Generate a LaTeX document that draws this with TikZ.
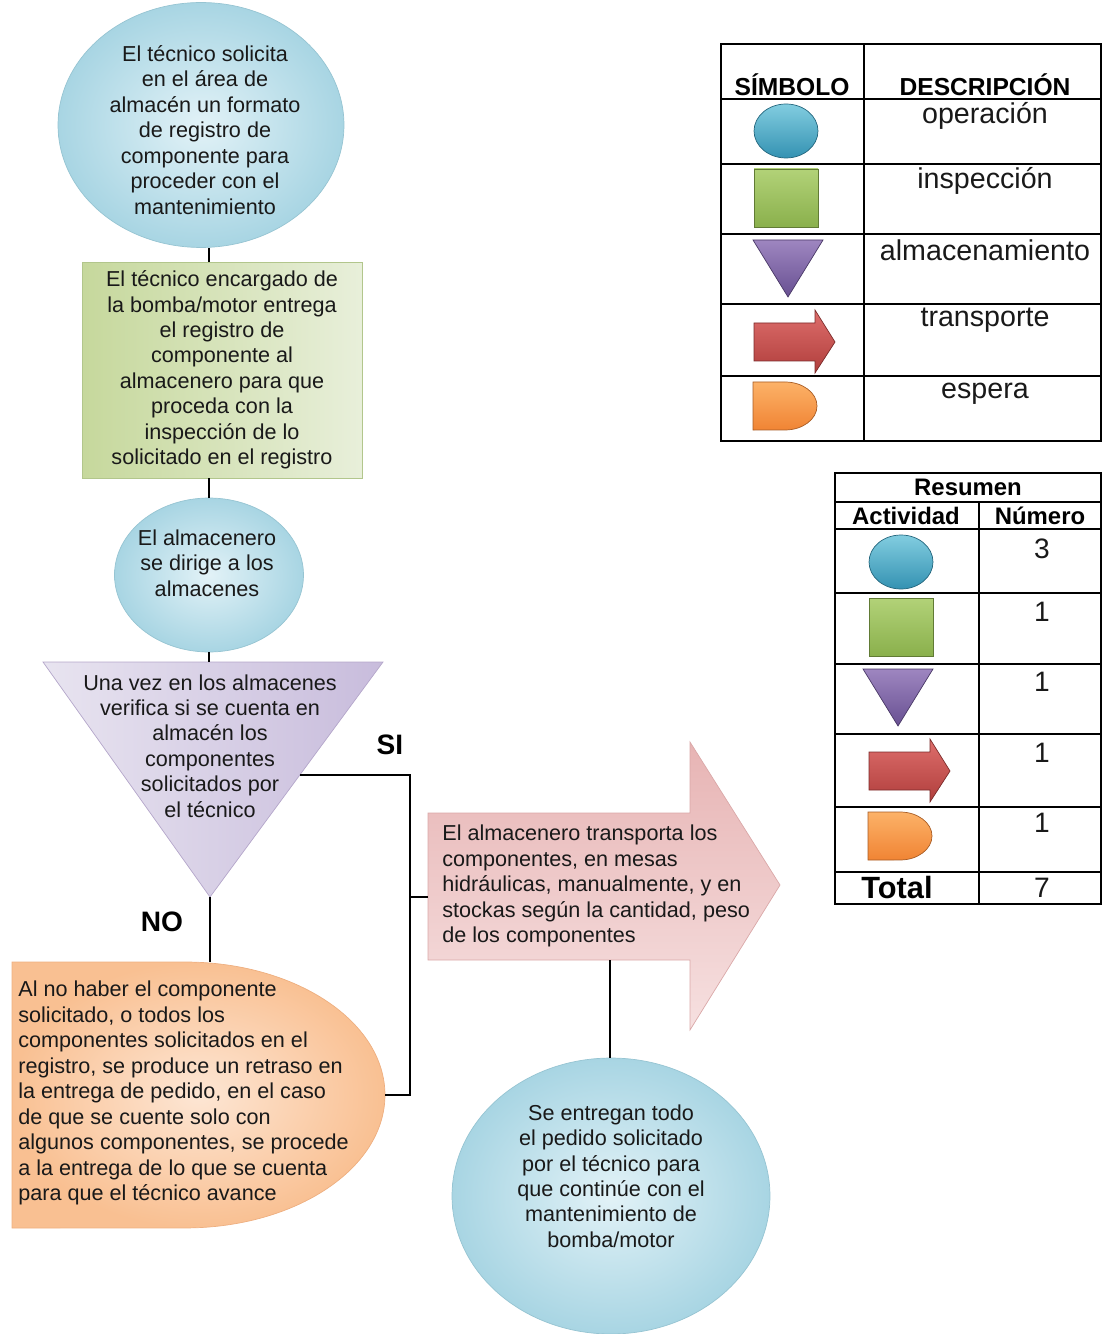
\documentclass[tikz,border=0pt]{standalone}
\usepackage{fontspec}
\setmainfont{Liberation Sans}
\usepackage{tikz}
\usetikzlibrary{positioning,shapes.geometric,calc}
\definecolor{txtcol}{RGB}{25,25,25}
\definecolor{opin}{RGB}{226,242,247}
\definecolor{opout}{RGB}{168,213,227}
\definecolor{opline}{RGB}{150,196,210}
\definecolor{inspA}{RGB}{198,216,156}
\definecolor{inspB}{RGB}{232,239,218}
\definecolor{inspline}{RGB}{178,198,140}
\definecolor{almA}{RGB}{232,228,240}
\definecolor{almB}{RGB}{200,188,220}
\definecolor{almline}{RGB}{180,166,202}
\definecolor{trA}{RGB}{231,180,180}
\definecolor{trB}{RGB}{246,224,224}
\definecolor{trline}{RGB}{218,168,168}
\definecolor{espA}{RGB}{253,230,212}
\definecolor{espB}{RGB}{249,192,146}
\definecolor{espline}{RGB}{238,175,128}
% colores de los simbolos de la leyenda
\definecolor{sopA}{RGB}{130,205,224}
\definecolor{sopB}{RGB}{52,146,178}
\definecolor{sinA}{RGB}{178,210,120}
\definecolor{sinB}{RGB}{138,176,76}
\definecolor{salA}{RGB}{158,134,192}
\definecolor{salB}{RGB}{104,80,146}
\definecolor{strA}{RGB}{222,110,108}
\definecolor{strB}{RGB}{176,62,60}
\definecolor{sesA}{RGB}{252,178,104}
\definecolor{sesB}{RGB}{240,132,52}
\tikzset{
  symop/.pic={\shadedraw[top color=sopA, bottom color=sopB, draw=sopB!70!black]
    (0,0) ellipse [x radius=0.64cm, y radius=0.54cm];},
  syminsp/.pic={\shadedraw[top color=sinA, bottom color=sinB, draw=sinB!70!black]
    (-32,-29) rectangle (32,29);},
  symalm/.pic={\shadedraw[top color=salA, bottom color=salB, draw=salB!70!black]
    (-35,-28) -- (35,-28) -- (0,29) -- cycle;},
  symtrans/.pic={\shadedraw[top color=strA, bottom color=strB, draw=strB!70!black]
    (-40,-19) -- (21,-19) -- (21,-32) -- (41,0) -- (21,31) -- (21,19) -- (-40,19) -- cycle;},
  symesp/.pic={\shadedraw[top color=sesA, bottom color=sesB, draw=sesB!70!black]
    (-32,-24) -- (0,-24) arc[start angle=90, end angle=-90, x radius=0.64cm, y radius=0.48cm]
    -- (-32,24) -- cycle;}
}

\begin{document}
\begin{tikzpicture}[x=0.02cm, y=-0.02cm,
  txt/.style={font=\fontsize{12.3}{14.5}\selectfont, text=txtcol, align=center, inner sep=0pt},
  opshape/.style={ellipse, draw=opline, inner color=opin, outer color=opout},
  inspshape/.style={rectangle, draw=inspline, left color=inspA, right color=inspB},
  flow/.style={line width=1.2pt},
  tabline/.style={line width=0.8pt},
  lbl/.style={font=\fontsize{16}{18}\selectfont\bfseries, inner sep=0pt},
  head/.style={font=\fontsize{14}{16}\selectfont\bfseries, inner sep=0pt},
  desc/.style={font=\fontsize{16.3}{19}\selectfont, text=txtcol, inner sep=0pt},
  num/.style={font=\fontsize{16}{18}\selectfont, text=txtcol, inner sep=0pt}]
\useasboundingbox (0,0) rectangle (1102,1334);

% diagrama
\node[opshape, minimum width=5.72cm, minimum height=4.9cm] (op1) at (201,125) {};
\node[txt] (op1t) at (205,130) {El técnico solicita\\en el área de\\almacén un formato\\de registro de\\componente para\\proceder con el\\mantenimiento};

\node[inspshape, txt, minimum width=5.6cm, minimum height=4.32cm] (insp) at (222,370)
  {El técnico encargado de\\la bomba/motor entrega\\el registro de\\componente al\\almacenero para que\\proceda con la\\inspección de lo\\solicitado en el registro};

\node[opshape, minimum width=3.78cm, minimum height=3.08cm] (op2) at (209,575) {};
\node[txt] (op2t) at (207,563) {El almacenero\\se dirige a los\\almacenes};

\shadedraw[draw=almline, left color=almA, right color=almB]
  (43,662) coordinate (almTL) -- (383,662) coordinate (almTR)
  -- (210,897) coordinate (almB) -- cycle;
\node[txt] (alm) at (210,746) {Una vez en los almacenes\\verifica si se cuenta en\\almacén los\\componentes\\solicitados por\\el técnico};

\shadedraw[draw=espline, inner color=espA, outer color=espB]
  (12,962) -- (185,962) coordinate (espR)
  arc[start angle=90, end angle=-90, x radius=4cm, y radius=2.66cm]
  -- (12,1228) -- cycle;
\coordinate (espTop) at (210,962);
\coordinate (espE) at (385,1095);
\node[txt, align=left, anchor=west] (esp) at (18,1093) {Al no haber el componente\\solicitado, o todos los\\componentes solicitados en el\\registro, se produce un retraso en\\la entrega de pedido, en el caso\\de que se cuente solo con\\algunos componentes, se procede\\a la entrega de lo que se cuenta\\para que el técnico avance};

\shadedraw[draw=trline, top color=trA, bottom color=trB]
  (428,813) -- (690,813) -- (690,742) -- (780,885) -- (690,1030)
  -- (690,960) -- (428,960) -- cycle;
\coordinate (trW) at (428,897);
\coordinate (trS) at (610,960);
\node[txt, align=left, anchor=west] (tr) at (442,886) {El almacenero transporta los\\componentes, en mesas\\hidráulicas, manualmente, y en\\stockas según la cantidad, peso\\de los componentes};

\node[opshape, minimum width=6.36cm, minimum height=5.52cm] (op3) at (611,1196) {};
\node[txt] (op3t) at (611,1176) {Se entregan todo\\el pedido solicitado\\por el técnico para\\que continúe con el\\mantenimiento de\\bomba/motor};

\node[lbl] (si) at (390,745) {SI};
\node[lbl] (no) at (162,922) {NO};

% conectores
\coordinate (siStart) at ($(almTR)!0.48!(almB)$);
\coordinate (bus) at (410,0);
\draw[flow] (insp.north -| op2.north) -- (op1.south -| op2.north);
\draw[flow] (insp.south -| op2.north) -- (op2.north);
\draw[flow] (op2.south) -- (op2.south |- almTL);
\draw[flow] (almB) -- (espTop);
\draw[flow] (siStart) -- (siStart -| bus) -- (bus |- espE) -- (espE);
\draw[flow] (bus |- trW) -- (trW);
\draw[flow] (trS) -- (trS |- op3.north);

% tabla de simbolos
\draw[tabline] (721,44) rectangle (1101,441);
\draw[tabline] (864,44) -- (864,441);
\foreach \y in {99,164,234,304,376}
  \draw[tabline] (721,\y) -- (1101,\y);
\node[head] (simb) at (792,85) {SÍMBOLO};
\node[head] (descr) at (985,85) {DESCRIPCIÓN};
\node[desc] (d1) at (985,116) {operación};
\node[desc] (d2) at (985,181) {inspección};
\node[desc] (d3) at (985,250) {almacenamiento};
\node[desc] (d4) at (985,320) {transporte};
\node[desc] (d5) at (985,394) {espera};
\pic at (786,131) {symop};
\pic at (786,198) {syminsp};
\pic at (788,268) {symalm};
\pic at (794,342) {symtrans};
\pic at (785,406) {symesp};

% tabla resumen
\draw[tabline] (835,473) rectangle (1101,904);
\foreach \y in {502,529,593,664,734,807,872}
  \draw[tabline] (835,\y) -- (1101,\y);
\draw[tabline] (979,502) -- (979,904);
\node[head, font=\fontsize{13.6}{16}\selectfont\bfseries] (res) at (968,487) {Resumen};
\node[head, font=\fontsize{13.6}{16}\selectfont\bfseries] (act) at (906,516) {Actividad};
\node[head, font=\fontsize{13.6}{16}\selectfont\bfseries] (nro) at (1040,516) {Número};
\node[num] (n1) at (1042,549) {3};
\node[num] (n2) at (1042,612) {1};
\node[num] (n3) at (1042,682) {1};
\node[num] (n4) at (1042,753) {1};
\node[num] (n5) at (1042,823) {1};
\node[head, font=\fontsize{17.5}{20}\selectfont\bfseries] (tot) at (897,888) {Total};
\node[num] (ntot) at (1042,888) {7};
\pic at (901,562) {symop};
\pic at (901,627) {syminsp};
\pic at (898,697) {symalm};
\pic at (909,771) {symtrans};
\pic at (900,836) {symesp};
\end{tikzpicture}
\end{document}
